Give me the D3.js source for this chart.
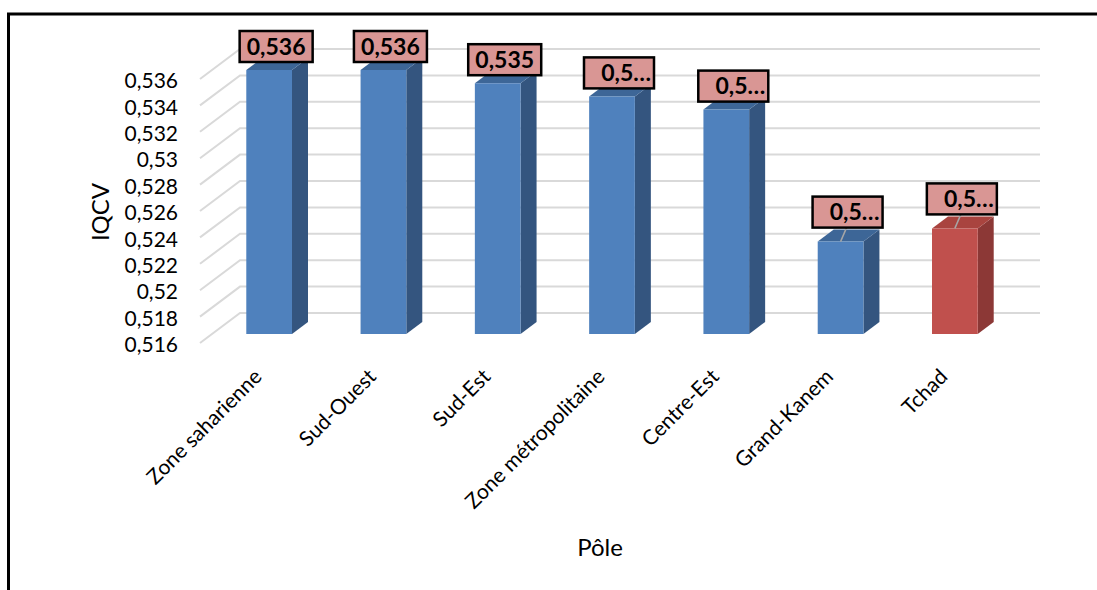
<!DOCTYPE html>
<html>
<head>
<meta charset="utf-8">
<script src="https://d3js.org/d3.v7.min.js"></script>
<style>
body { margin: 0; background: #fff; }
text { font-family: Lato, "Open Sans", sans-serif; fill: #000; }
</style>
</head>
<body>
<svg id="chart"></svg>
<script>
// data
const categories = ["Zone saharienne", "Sud-Ouest", "Sud-Est", "Zone métropolitaine", "Centre-Est", "Grand-Kanem", "Tchad"];
const values = [0.536, 0.536, 0.535, 0.534, 0.533, 0.523, 0.524];
const labelTexts = ["0,536", "0,536", "0,535", "0,5…", "0,5…", "0,5…", "0,5…"];
const yTicks = [0.516, 0.518, 0.52, 0.522, 0.524, 0.526, 0.528, 0.53, 0.532, 0.534, 0.536];
const highlighted = ["Tchad"];
const withLeader = ["Grand-Kanem", "Tchad"];

class Bar3DChart {
constructor(config, data) {
    this.config = {
        parent: config.parent,
        width: config.width || 1097,
        height: config.height || 590,
        left: config.left || 240,
        right: config.right || 1040,
        top: config.top || 49,
        bottom: config.bottom || 313,
        depth: config.depth || {dx: 40, dy: 30},
        xlabel: config.xlabel || '',
        ylabel: config.ylabel || '',
    }
    this.data = data;
    this.init();
}

init() {
    let self = this;
    self.svg = d3.select(self.config.parent)
        .attr('width', self.config.width)
        .attr('height', self.config.height);

    // frame of the chart area
    self.svg.append('path')
        .attr('d', `M8.5,${self.config.height} V14 H${self.config.width}`)
        .attr('fill', 'none')
        .attr('stroke', '#000')
        .attr('stroke-width', 3);

    self.xscale = d3.scaleBand()
        .domain(self.data.map(d => d.name))
        .range([self.config.left, self.config.right]);
    self.yscale = d3.scaleLinear()
        .domain([d3.min(yTicks), d3.max(yTicks)])
        .range([self.config.bottom, self.config.top]);
    // front edge of the floor, used by the value axis
    self.yfront = self.yscale.copy()
        .range([self.config.bottom + self.config.depth.dy, self.config.top + self.config.depth.dy]);

    self.grid_group = self.svg.append('g');
    self.bar_group = self.svg.append('g');
    self.label_group = self.svg.append('g');

    self.yaxis = d3.axisLeft(self.yfront)
        .tickValues(yTicks)
        .tickFormat(d => String(+d.toFixed(3)).replace('.', ','))
        .tickSize(0)
        .tickPadding(0);
    self.yaxis_group = self.svg.append('g')
        .attr('transform', `translate(178, 2)`);

    self.xaxis_group = self.svg.append('g');

    self.svg.append('text')
        .style('font-size', '24px')
        .attr('x', 600)
        .attr('y', 556)
        .attr('text-anchor', 'middle')
        .text(self.config.xlabel);

    self.svg.append('text')
        .style('font-size', '24px')
        .attr('transform', `translate(109, 212) rotate(-90)`)
        .attr('text-anchor', 'middle')
        .text(self.config.ylabel);
}

// x along the back wall, v value, z depth (0 = back wall, 1 = front of floor)
proj(x, v, z) {
    const dp = this.config.depth;
    return [x - dp.dx * z, this.yscale(v) + dp.dy * z];
}

update() {
    let self = this;
    const vmin = d3.min(yTicks);
    const bw = self.xscale.bandwidth();
    const hw = bw * 0.2;
    const zf = 0.7, zb = 0.3;
    const pts = a => a.map(p => p.join(',')).join(' ');

    // gridlines: floor diagonal then back wall
    self.grid_group.selectAll('polyline')
        .data(yTicks)
        .join('polyline')
        .attr('points', t => pts([
            self.proj(self.config.left, t, 1),
            self.proj(self.config.left, t, 0),
            self.proj(self.config.right, t, 0)]))
        .attr('fill', 'none')
        .attr('stroke', '#d9d9d9')
        .attr('stroke-width', 2);

    const bars = self.bar_group.selectAll('g')
        .data(self.data)
        .join('g');

    bars.each(function(d) {
        const g = d3.select(this);
        const c = self.xscale(d.name) + bw / 2;
        const hot = highlighted.includes(d.name);
        const col = hot ? {front: '#c0504d', side: '#8c3836', top: '#a9443f'}
                        : {front: '#4f81bd', side: '#34557f', top: '#3d6697'};
        g.append('polygon')
            .attr('points', pts([
                self.proj(c + hw, d.value, zf), self.proj(c + hw, d.value, zb),
                self.proj(c + hw, vmin, zb), self.proj(c + hw, vmin, zf)]))
            .attr('fill', col.side);
        g.append('polygon')
            .attr('points', pts([
                self.proj(c - hw, d.value, zf), self.proj(c - hw, d.value, zb),
                self.proj(c + hw, d.value, zb), self.proj(c + hw, d.value, zf)]))
            .attr('fill', col.top);
        g.append('polygon')
            .attr('points', pts([
                self.proj(c - hw, d.value, zf), self.proj(c + hw, d.value, zf),
                self.proj(c + hw, vmin, zf), self.proj(c - hw, vmin, zf)]))
            .attr('fill', col.front);
    });

    // data labels
    const labels = self.label_group.selectAll('g')
        .data(self.data)
        .join('g');

    labels.each(function(d) {
        const g = d3.select(this);
        const c = self.xscale(d.name) + bw / 2;
        const [fx, fy] = self.proj(c, d.value, zf);
        const lead = withLeader.includes(d.name);
        const cut = d.label.endsWith('…');
        const w = cut ? 70 : 73, h = 31;
        const bx = fx + 7;
        const bottom = fy - (lead ? 14 : 8);
        if (lead) {
            g.append('line')
                .attr('x1', fx).attr('y1', fy)
                .attr('x2', bx - 1).attr('y2', bottom)
                .attr('stroke', '#a6a6a6')
                .attr('stroke-width', 1.5);
        }
        g.append('rect')
            .attr('x', bx - w / 2)
            .attr('y', bottom - h)
            .attr('width', w)
            .attr('height', h)
            .attr('fill', '#d99694')
            .attr('stroke', '#000')
            .attr('stroke-width', 2.5);
        g.append('text')
            .style('font-size', '23px')
            .style('font-weight', 'bold')
            .attr('x', cut ? bx + w / 2 - 3 : bx)
            .attr('y', bottom - h / 2)
            .attr('dy', '0.35em')
            .attr('text-anchor', cut ? 'end' : 'middle')
            .text(d.label);
    });

    self.render();
}

render() {
    let self = this;
    const bw = self.xscale.bandwidth();
    self.yaxis_group
        .call(self.yaxis)
        .call(g => g.select('.domain').remove())
        .selectAll('text')
        .style('font-size', '21px')
        .style('font-family', 'Lato, "Open Sans", sans-serif');

    self.xaxis_group.selectAll('text')
        .data(self.data)
        .join('text')
        .style('font-size', '21px')
        .attr('text-anchor', 'end')
        .attr('transform', d => `translate(${self.xscale(d.name) + bw / 2 - 34}, 378) rotate(-45)`)
        .text(d => d.name);
}
}

const data = categories.map((name, i) => ({name: name, value: values[i], label: labelTexts[i]}));
const chart = new Bar3DChart({
    parent: '#chart',
    width: 1097,
    height: 590,
    xlabel: 'Pôle',
    ylabel: 'IQCV',
}, data);
chart.update();
</script>
</body>
</html>
